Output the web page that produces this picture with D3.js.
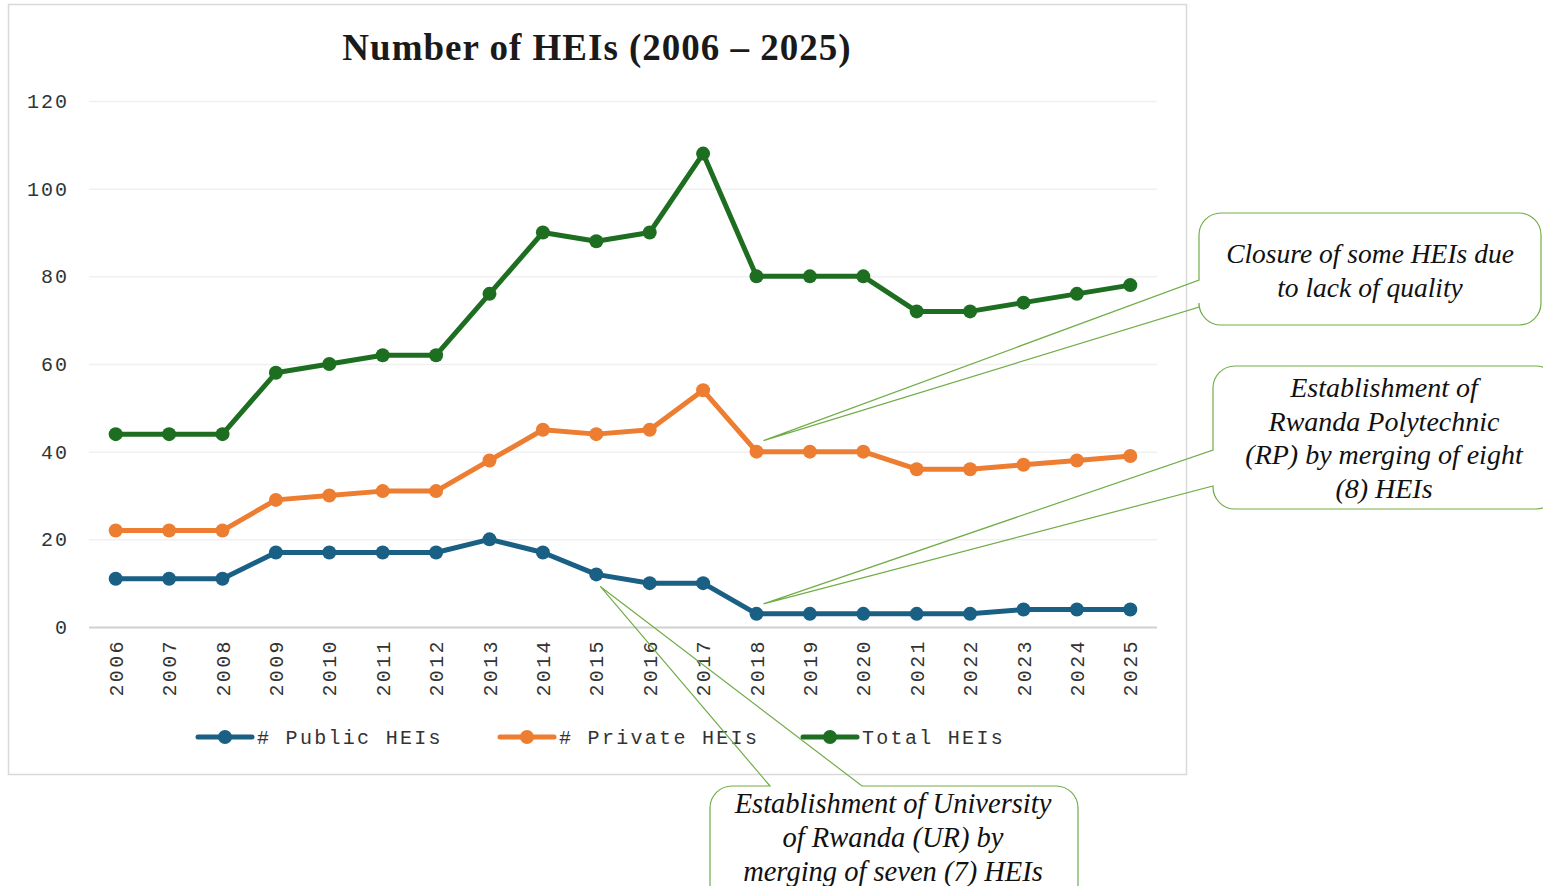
<!DOCTYPE html>
<html><head><meta charset="utf-8">
<script src="https://cdn.jsdelivr.net/npm/d3@7"></script>
<style>body{margin:0;background:#fff;}svg{display:block;}</style>
</head><body>
<svg id="c" width="1543" height="886"></svg>
<script>
const years = ["2006","2007","2008","2009","2010","2011","2012","2013","2014","2015","2016","2017","2018","2019","2020","2021","2022","2023","2024","2025"];
const publicHEIs  = [11,11,11,17,17,17,17,20,17,12,10,10,3,3,3,3,3,4,4,4];
const privateHEIs = [22,22,22,29,30,31,31,38,45,44,45,54,40,40,40,36,36,37,38,39];
const totalHEIs   = [44,44,44,58,60,62,62,76,90,88,90,108,80,80,80,72,72,74,76,78];
const yTicks = [0,20,40,60,80,100,120];
const seriesNames = ["# Public HEIs","# Private HEIs","Total HEIs"];
const seriesColors = ["#1a5f84","#ed7d31","#1e6e22"];
const titleText = "Number of HEIs (2006 \u2013 2025)";
const notes = [
  {lines:["Closure of some HEIs due","to lack of quality"], year:"2018", value:40},
  {lines:["Establishment of","Rwanda Polytechnic","(RP) by merging of eight","(8) HEIs"], year:"2018", value:3},
  {lines:["Establishment of University","of Rwanda (UR) by","merging of seven (7) HEIs"], year:"2015", value:12}
];

const svg = d3.select("#c");
const L=89, R=1157, T=101, B=627;
const x = d3.scaleBand().domain(years).range([L,R]);
const y = d3.scaleLinear().domain([0,120]).range([B,T]);
const cx = d => x(d)+x.bandwidth()/2;

// chart border
svg.append("rect").attr("x",8.5).attr("y",4.5).attr("width",1178).attr("height",770)
  .attr("fill","#fff").attr("stroke","#d9d9d9").attr("stroke-width",1.5);

// title
svg.append("text").attr("x",597).attr("y",60).attr("text-anchor","middle")
  .attr("font-family","Liberation Serif, serif").attr("font-weight","bold").attr("font-size",37)
  .attr("letter-spacing","1px").attr("fill","#1a1a1a").text(titleText);

const mono = "Liberation Mono, Courier New, monospace";
// gridlines
const yAxis = d3.axisLeft(y).tickValues(yTicks).tickSize(-(R-L)).tickFormat(d3.format("d"));
const gy = svg.append("g").attr("transform",`translate(${L},0)`).call(yAxis);
gy.select(".domain").remove();
gy.selectAll(".tick line").attr("stroke", d=> d===0 ? "#d0d0d0" : "#f0f0f0").attr("stroke-width", d=> d===0?2:1.5);
gy.selectAll(".tick text").attr("x",-20).attr("font-family",mono).attr("font-size",20)
  .attr("letter-spacing","2px").attr("fill","#333");

// x axis
const xAxis = d3.axisBottom(x).tickSize(0);
const gx = svg.append("g").attr("transform",`translate(0,${B})`).call(xAxis);
gx.select(".domain").remove();
gx.selectAll(".tick text").attr("transform","rotate(-90)").attr("text-anchor","end")
  .attr("x",-12).attr("y",0).attr("dy","0.35em")
  .attr("font-family",mono).attr("font-size",20).attr("letter-spacing","2.4px").attr("fill","#333");

// series
const data = [publicHEIs, privateHEIs, totalHEIs];
const line = d3.line().x((d,i)=>cx(years[i])).y(d=>y(d));
data.forEach((s,k)=>{
  svg.append("path").datum(s).attr("d",line).attr("fill","none")
    .attr("stroke",seriesColors[k]).attr("stroke-width",5).attr("stroke-linejoin","round");
  svg.append("g").selectAll("circle").data(s).join("circle")
    .attr("cx",(d,i)=>cx(years[i])).attr("cy",d=>y(d)).attr("r",7).attr("fill",seriesColors[k]);
});

// legend
const legX = [198,500,803];
seriesNames.forEach((n,k)=>{
  const g = svg.append("g").attr("transform",`translate(${legX[k]},737)`);
  g.append("line").attr("x1",0).attr("x2",54).attr("y1",0).attr("y2",0)
    .attr("stroke",seriesColors[k]).attr("stroke-width",5).attr("stroke-linecap","round");
  g.append("circle").attr("cx",27).attr("cy",0).attr("r",7).attr("fill",seriesColors[k]);
  g.append("text").attr("x",59).attr("y",0).attr("dy","0.35em").attr("font-family",mono)
    .attr("font-size",20).attr("letter-spacing","2.3px").attr("fill","#333").text(n);
});

// callouts
const green = "#70ad47";
function calloutLeft(bx,by,bw,bh,r,b1,b2,tx,ty){
  const p = d3.path();
  p.moveTo(bx+r,by); p.lineTo(bx+bw-r,by); p.arcTo(bx+bw,by,bx+bw,by+r,r);
  p.lineTo(bx+bw,by+bh-r); p.arcTo(bx+bw,by+bh,bx+bw-r,by+bh,r);
  p.lineTo(bx+r,by+bh); p.arcTo(bx,by+bh,bx,by+bh-r,r);
  p.lineTo(bx,b2); p.lineTo(tx,ty); p.lineTo(bx,b1); p.lineTo(bx,by+r); p.arcTo(bx,by,bx+r,by,r);
  p.closePath(); return p.toString();
}
function calloutTop(bx,by,bw,bh,r,b1,b2,tx,ty){
  const p = d3.path();
  p.moveTo(bx+r,by); p.lineTo(b1,by); p.lineTo(tx,ty); p.lineTo(b2,by);
  p.lineTo(bx+bw-r,by); p.arcTo(bx+bw,by,bx+bw,by+r,r);
  p.lineTo(bx+bw,by+bh-r); p.arcTo(bx+bw,by+bh,bx+bw-r,by+bh,r);
  p.lineTo(bx+r,by+bh); p.arcTo(bx,by+bh,bx,by+bh-r,r);
  p.lineTo(bx,by+r); p.arcTo(bx,by,bx+r,by,r); p.closePath(); return p.toString();
}
const serifI = "Liberation Serif, serif";
function addText(lines, xc, y0, lh, fs){
  const t = svg.append("text").attr("text-anchor","middle").attr("font-family",serifI)
    .attr("font-style","italic").attr("font-size",fs).attr("fill","#111");
  lines.forEach((l,i)=>t.append("tspan").attr("x",xc).attr("y",y0+i*lh).text(l));
}
// note 1
{
  const n=notes[0]; const tx=cx(n.year)+7, ty=y(n.value)-11;
  svg.append("path").attr("d",calloutLeft(1199,213,342,112,22,280,307,tx,ty))
    .attr("fill","none").attr("stroke",green).attr("stroke-width",1.2);
  addText(n.lines,1370,263,34,27.5);
}
// note 2
{
  const n=notes[1]; const tx=cx(n.year)+7, ty=y(n.value)-10;
  svg.append("path").attr("d",calloutLeft(1213,366,345,143,22,450,486,tx,ty))
    .attr("fill","none").attr("stroke",green).attr("stroke-width",1.2);
  addText(n.lines,1384,397,33.5,28);
}
// note 3
{
  const n=notes[2]; const tx=cx(n.year)+4, ty=y(n.value)+12;
  svg.append("path").attr("d",calloutTop(710,786,368,120,22,770,862,tx,ty))
    .attr("fill","none").attr("stroke",green).attr("stroke-width",1.2);
  addText(n.lines,893,813,34,28.5);
}
</script>
</body></html>
